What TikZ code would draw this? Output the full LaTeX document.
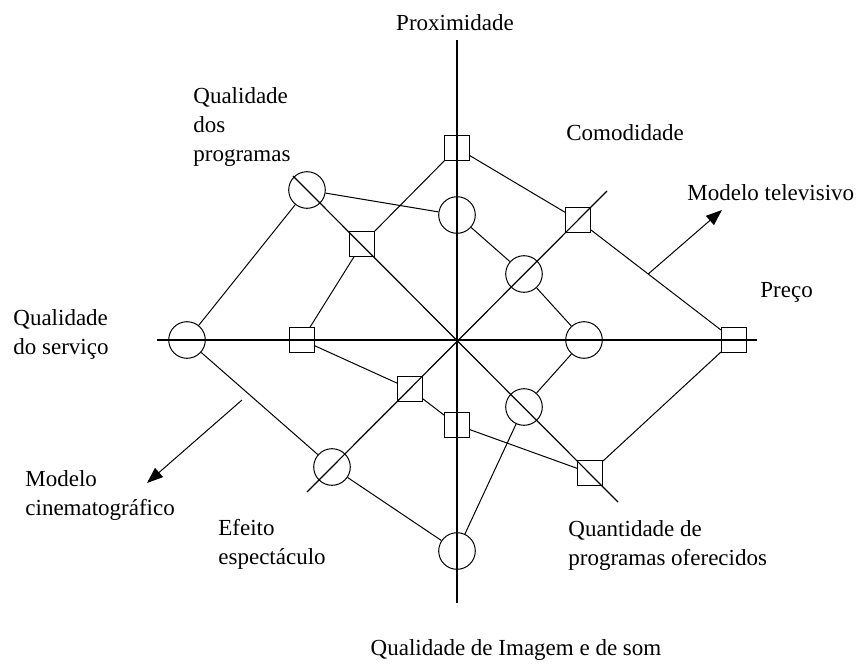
\documentclass[tikz,border=0pt]{standalone}
\usepackage{fontspec}
\setmainfont{Liberation Serif}
\usetikzlibrary{calc,positioning,arrows.meta}

\begin{document}
\begin{tikzpicture}[x=0.5pt, y=-0.5pt,
    axis/.style={line width=1pt},
    diag/.style={line width=0.6pt},
    link/.style={line width=0.5pt},
    circ/.style={circle, draw, line width=0.5pt, minimum size=18.3pt, inner sep=0pt},
    sq/.style={rectangle, draw, line width=0.6pt, minimum size=12.3pt, inner sep=0pt},
    lbl/.style={align=left, inner sep=0pt, font=\fontsize{11.5}{14.5}\selectfont}]
  \useasboundingbox (0,0) rectangle (864,664);
  % axes
  \coordinate (n_end) at (457,40);
  \coordinate (s_end) at (457,603);
  \coordinate (w_end) at (157,340);
  \coordinate (e_end) at (757,340);
  \coordinate (nw_end) at (293,176);
  \coordinate (se_end) at (618,502);
  \coordinate (sw_end) at (307,492);
  \coordinate (ne_end) at (607,191);
  \draw[axis] (n_end) -- (s_end);
  \draw[axis] (w_end) -- (e_end);
  \draw[diag] (nw_end) -- (se_end);
  \draw[diag] (sw_end) -- (ne_end);

  % modelo cinematografico (circulos)
  \node[circ] (c_1) at (457,215) {};
  \node[circ] (c_2) at (524,274) {};
  \node[circ] (c_3) at (584,340) {};
  \node[circ] (c_4) at (524,407) {};
  \node[circ] (c_5) at (457,551) {};
  \node[circ] (c_6) at (332,467) {};
  \node[circ] (c_7) at (187,340) {};
  \node[circ] (c_8) at (307,190) {};
  \path[link] (c_1) edge (c_2)
    (c_2) edge (c_3)
    (c_3) edge (c_4)
    (c_4) edge (c_5)
    (c_5) edge (c_6)
    (c_6) edge (c_7)
    (c_7) edge (c_8)
    (c_8) edge (c_1);

  % modelo televisivo (quadrados)
  \node[sq] (s_1) at (457,148) {};
  \node[sq] (s_2) at (578,220) {};
  \node[sq] (s_3) at (734,340) {};
  \node[sq] (s_4) at (590,473) {};
  \node[sq] (s_5) at (457,425) {};
  \node[sq] (s_6) at (410,389) {};
  \node[sq] (s_7) at (302,340) {};
  \node[sq] (s_8) at (362,244) {};
  \path[link] (s_1) edge (s_2)
    (s_2) edge (s_3)
    (s_3) edge (s_4)
    (s_4) edge (s_5)
    (s_5) edge (s_6)
    (s_6) edge (s_7)
    (s_7) edge (s_8)
    (s_8) edge (s_1);

  % setas
  \coordinate (tv_from) at ($(s_2)!0.45!(s_3)$);
  \coordinate (tv_to) at (722,210);
  \coordinate (cine_from) at (242,400);
  \coordinate (cine_to) at (147,483);
  \draw[link, -{Triangle[length=8pt,width=6pt]}] (tv_from) -- (tv_to);
  \draw[link, -{Triangle[length=8pt,width=6pt]}] (cine_from) -- (cine_to);

  % textos
  \node[lbl] (l_prox) at (455,23) {Proximidade};
  \node[lbl, anchor=west] (l_qprog) at (193,127) {Qualidade\\dos\\programas};
  \node[lbl, anchor=west] (l_comod) at (566,133) {Comodidade};
  \node[lbl, anchor=west] (l_tv) at (687,193) {Modelo televisivo};
  \node[lbl, anchor=west] (l_preco) at (760,292) {Preço};
  \node[lbl, anchor=west] (l_qserv) at (13,334) {Qualidade\\do serviço};
  \node[lbl, anchor=west] (l_cine) at (25,496) {Modelo\\cinematográfico};
  \node[lbl, anchor=west] (l_efeito) at (218,544) {Efeito\\espectáculo};
  \node[lbl, anchor=west] (l_quant) at (568,546) {Quantidade de\\programas oferecidos};
  \node[lbl] (l_img) at (516,650) {Qualidade de Imagem e de som};
\end{tikzpicture}
\end{document}
